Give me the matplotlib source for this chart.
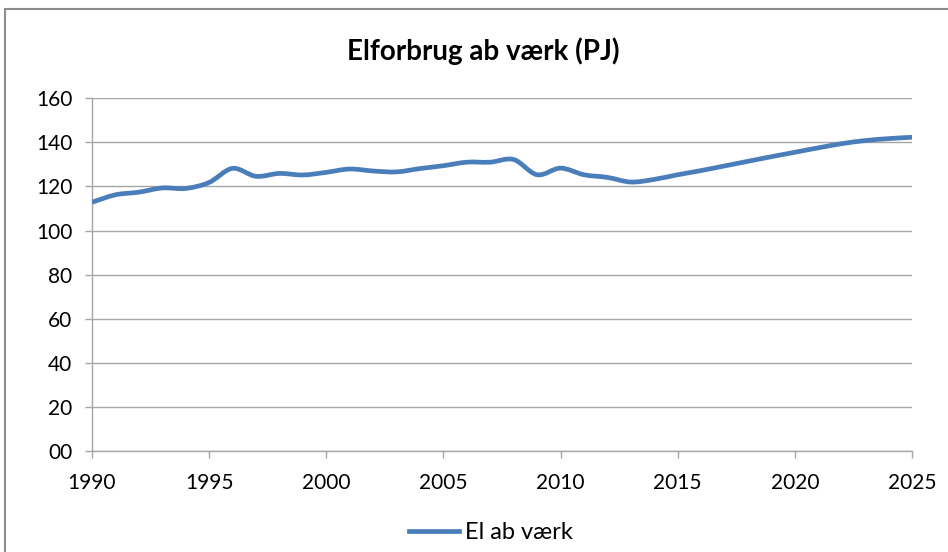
import numpy as np
import matplotlib
matplotlib.use("Agg")
import matplotlib.pyplot as plt
from matplotlib.path import Path
from matplotlib.patches import PathPatch, Rectangle
from matplotlib.lines import Line2D

plt.rcParams['font.family'] = ['Lato', 'DejaVu Sans']

years = list(range(1990, 2026))
el_ab_vaerk = [112.8, 116.2, 117.4, 119.3, 119.1, 121.8, 128.2, 124.6, 125.9, 125.2,
               126.4, 127.9, 127.0, 126.6, 128.1, 129.4, 131.0, 131.0, 132.2, 125.3,
               128.3, 125.3, 124.1, 122.0, 123.2, 125.3, 127.2, 129.3, 131.4, 133.5,
               135.5, 137.5, 139.4, 140.8, 141.7, 142.3]
y_ticks = [0, 20, 40, 60, 80, 100, 120, 140, 160]
y_labels = ['00', '20', '40', '60', '80', '100', '120', '140', '160']
x_ticks = [1990, 1995, 2000, 2005, 2010, 2015, 2020, 2025]

line_col = '#4A7EBB'
grid_col = '#A6A6A6'

fig = plt.figure(figsize=(9.48, 5.52), dpi=100)
ax = fig.add_axes([0.097, 0.183, 0.865, 0.639])

# smoothed line like excel (catmull-rom as cubic bezier)
x = np.array(years, dtype=float)
y = np.array(el_ab_vaerk, dtype=float)
verts = [(x[0], y[0])]
codes = [Path.MOVETO]
n = len(x)
for i in range(n - 1):
    p0 = i - 1 if i > 0 else i
    p3 = i + 2 if i + 2 < n else i + 1
    c1 = (x[i] + (x[i + 1] - x[p0]) / 6, y[i] + (y[i + 1] - y[p0]) / 6)
    c2 = (x[i + 1] - (x[p3] - x[i]) / 6, y[i + 1] - (y[p3] - y[i]) / 6)
    verts += [c1, c2, (x[i + 1], y[i + 1])]
    codes += [Path.CURVE4] * 3
ax.add_patch(PathPatch(Path(verts, codes), fill=False, edgecolor=line_col,
                       lw=3.4, capstyle='butt', joinstyle='round', zorder=3))

ax.set_xlim(1990, 2025)
ax.set_ylim(0, 160)
ax.set_xticks(x_ticks)
ax.set_yticks(y_ticks)
ax.set_yticklabels(y_labels)
ax.grid(axis='y', color=grid_col, lw=1)
ax.set_axisbelow(True)
for s in ['top', 'right']:
    ax.spines[s].set_visible(False)
for s in ['left', 'bottom']:
    ax.spines[s].set_color(grid_col)
    ax.spines[s].set_linewidth(1)
ax.tick_params(axis='both', colors=grid_col, labelcolor='black', labelsize=15,
               length=5, width=1, direction='out')
ax.tick_params(axis='y', pad=9)
ax.tick_params(axis='x', pad=11)

fig.text(0.51, 0.908, 'Elforbrug ab værk (PJ)', ha='center', va='center',
         fontsize=20, fontweight='bold')

handle = Line2D([], [], color=line_col, lw=3.4)
fig.legend([handle], ['El ab værk'], loc='center', bbox_to_anchor=(0.518, 0.035),
           frameon=False, fontsize=17, handlelength=2.1, handletextpad=0.25)

fig.patches.append(Rectangle((5 / 948, -0.1), 1.2, 1 - 9 / 552 + 0.1,
                             transform=fig.transFigure, fill=False,
                             edgecolor='#8C8C8C', lw=1.5))

fig.savefig('out.png', dpi=100)
